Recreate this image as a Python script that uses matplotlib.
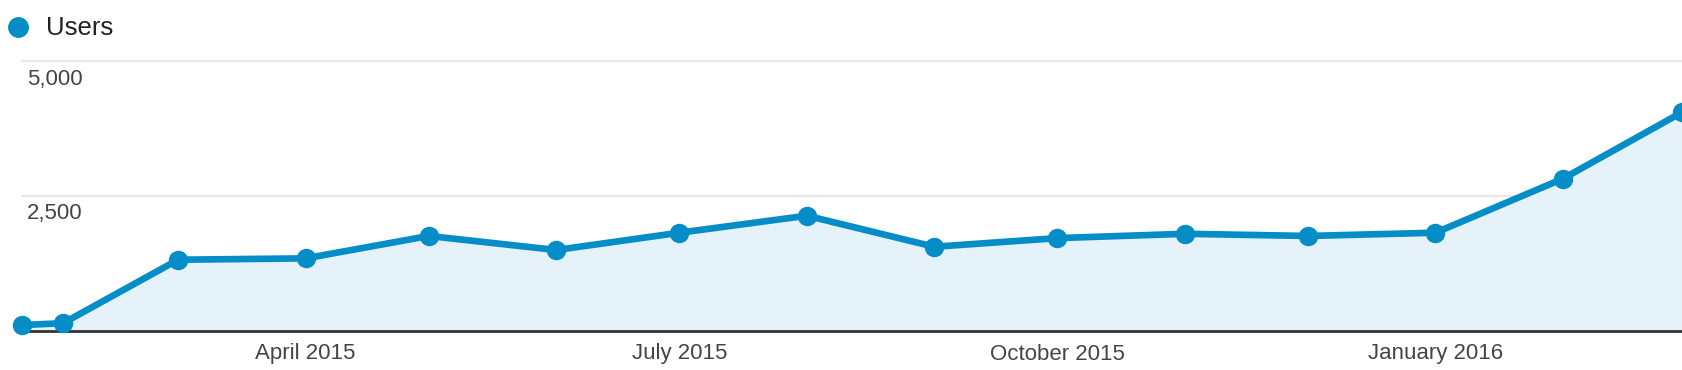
import matplotlib
matplotlib.use("Agg")
import matplotlib.pyplot as plt
import matplotlib.dates as mdates
from matplotlib.lines import Line2D
import numpy as np
import pandas as pd

# monthly users (first point is a partial period)
dates = pd.to_datetime(["2015-01-22", "2015-02-01", "2015-03-01", "2015-04-01", "2015-05-01",
                        "2015-06-01", "2015-07-01", "2015-08-01", "2015-09-01", "2015-10-01",
                        "2015-11-01", "2015-12-01", "2016-01-01", "2016-02-01", "2016-03-01"])
users = [110, 145, 1320, 1345, 1760, 1500, 1820, 2135, 1560, 1720, 1800, 1760, 1820, 2820, 4050]

yticks = [2500, 5000]
ytick_labels = ["2,500", "5,000"]
xticks = pd.to_datetime(["2015-04-01", "2015-07-01", "2015-10-01", "2016-01-01"])
xtick_labels = ["April 2015", "July 2015", "October 2015", "January 2016"]

blue = "#058DC7"
fill = "#E5F2F9"

plt.rcParams['font.family'] = ['Liberation Sans', 'DejaVu Sans']

fig = plt.figure(figsize=(16.82, 3.70), dpi=100)
ax = fig.add_axes([22 / 1682, 39 / 370, 1 - 22 / 1682, (331 - 61) / 370])

ax.fill_between(dates, 0, users, color=fill, lw=0, zorder=1)
ax.plot(dates, users, color=blue, lw=4.8, marker='o', markersize=13,
        clip_on=False, zorder=4)

ax.set_xlim(dates[0], dates[-1])
ax.set_ylim(0, 5000)

for y, lab in zip(yticks, ytick_labels):
    ax.axhline(y, color="#e8e8e8", lw=1.6, zorder=0, clip_on=False)
    ax.text(5 / 1660, y - 18 * 2500 / 135, lab, transform=ax.get_yaxis_transform(),
            ha='left', va='center', fontsize=16, color="#444444")

ax.set_yticks([])
ax.set_xticks(xticks)
ax.set_xticklabels(xtick_labels, fontsize=16, color="#444444")
ax.tick_params(axis='x', length=0, pad=9)

for s in ["top", "right", "left"]:
    ax.spines[s].set_visible(False)
ax.spines["bottom"].set_color("#333333")
ax.spines["bottom"].set_linewidth(2)
ax.spines["bottom"].set_zorder(3)

# legend
fig.add_artist(Line2D([18 / 1682], [1 - 27 / 370], marker='o', markersize=14,
                      color=blue, linestyle='', transform=fig.transFigure))
fig.text(46 / 1682, 1 - 28 / 370, "Users", fontsize=18.5, color="#222222",
         ha='left', va='center')

fig.savefig("out.png", dpi=100)
